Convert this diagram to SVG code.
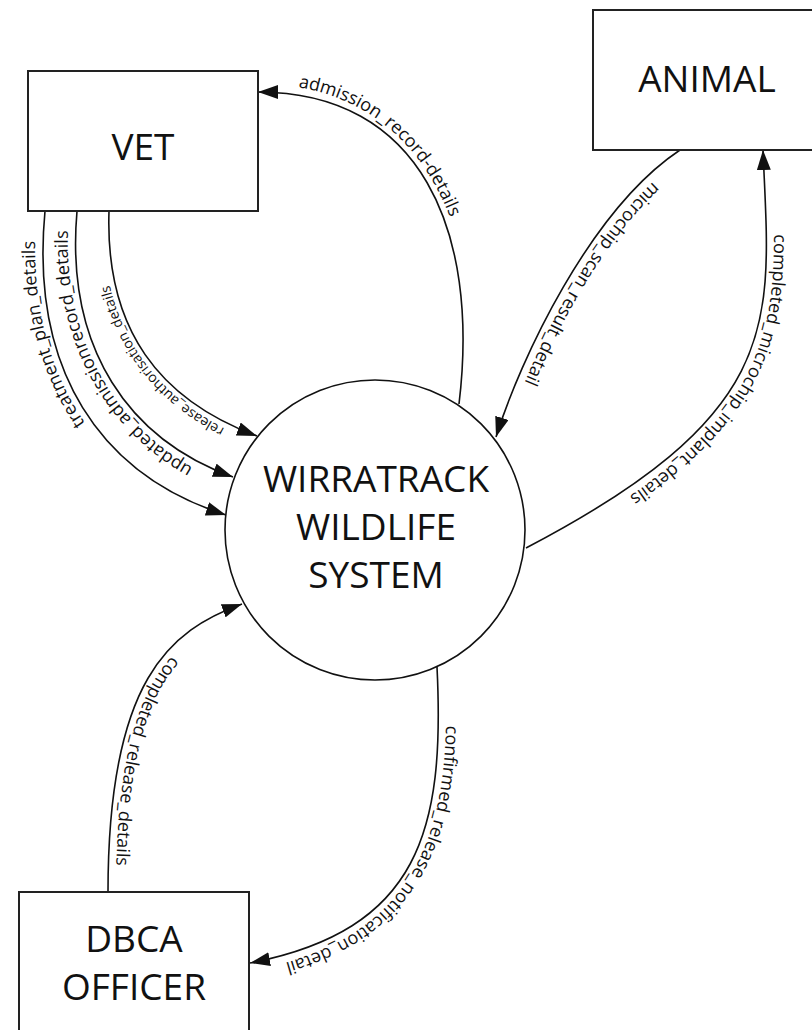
<svg xmlns="http://www.w3.org/2000/svg" width="812" height="1030" viewBox="0 0 812 1030">
<defs>
<marker id="arrow" markerUnits="userSpaceOnUse" markerWidth="20" markerHeight="14" refX="20" refY="7" orient="auto-start-reverse">
<path d="M0,0 L20,7 L0,14 Z" fill="#111"/>
</marker>
<path id="t1" d="M258,84 C420,84 489,231 468,405"/>
<path id="t2" d="M684.4,156.7 C594.4,216.7 527.6,362.4 503.6,439.4"/>
<path id="t3" d="M771,149.7 C778,319.7 793.7,417.1 529.7,555.1"/>
<path id="t4" d="M223.6,522.6 C97.6,482.6 22,369.2 37,210.2"/>
<path id="t5" d="M230.3,484.5 C127.3,447.5 57,349.3 69,210.3"/>
<path id="t6" d="M254.9,441.6 C157.9,405.6 99,329.8 103,210.8"/>
<path id="t7" d="M244.7,611.5 C172.7,637.5 116,680 116,892"/>
<path id="t8" d="M445,666.6 C453,829.6 421.5,937.8 251.5,970.8"/>
</defs>
<style>
.box{fill:#fff;stroke:#222;stroke-width:2}
.proc{fill:#fff;stroke:#111;stroke-width:1.6}
.flow{fill:none;stroke:#111;stroke-width:1.6}
.title{font-family:"Open Sans","Noto Sans",sans-serif;font-size:37px;fill:#111;text-anchor:middle}
.lbl{font-family:"Open Sans","Noto Sans",sans-serif;font-size:18px;fill:#111}
.sm{font-size:14px}
</style>
<rect width="812" height="1030" fill="#fff"/>
<g id="connectors">
<path id="c1" class="flow" d="M258,92 C420,92 480,230 459,404" marker-start="url(#arrow)"/>
<path id="c2" class="flow" d="M680,150 C590,210 520,360 496,437" marker-end="url(#arrow)"/>
<path id="c3" class="flow" d="M763,150 C770,320 790,410 526,548" marker-start="url(#arrow)"/>
<path id="c4" class="flow" d="M226,515 C100,475 30,370 45,211" marker-start="url(#arrow)"/>
<path id="c5" class="flow" d="M233,477 C130,440 65,350 77,211" marker-start="url(#arrow)"/>
<path id="c6" class="flow" d="M257,436 C160,400 105,330 109,211" marker-start="url(#arrow)"/>
<path id="c7" class="flow" d="M242,604 C170,630 108,680 108,892" marker-start="url(#arrow)"/>
<path id="c8" class="flow" d="M437,667 C445,830 420,930 250,963" marker-end="url(#arrow)"/>
<text class="lbl"><textPath href="#t1" startOffset="33%" text-anchor="middle">admission_record-details</textPath></text>
<text class="lbl"><textPath href="#t2" startOffset="47%" text-anchor="middle">microchip_scan_result_detail</textPath></text>
<text class="lbl"><textPath href="#t3" startOffset="47%" text-anchor="middle">completed_microchip_implant_details</textPath></text>
<text class="lbl"><textPath href="#t4" startOffset="68%" text-anchor="middle">treatment_plan_details</textPath></text>
<text class="lbl"><textPath href="#t5" startOffset="53%" text-anchor="middle">updated_admissionrecord_details</textPath></text>
<text class="lbl sm"><textPath href="#t6" startOffset="43%" text-anchor="middle">release_authorisation_details</textPath></text>
<text class="lbl"><textPath href="#t7" startOffset="59%" text-anchor="middle">completed_release_details</textPath></text>
<text class="lbl"><textPath href="#t8" startOffset="53%" text-anchor="middle">confirmed_release_notification_detail</textPath></text>
</g>
<g id="vet">
<rect class="box" x="28" y="71" width="230" height="140"/>
<text class="title" x="143" y="160">VET</text>
</g>
<g id="animal">
<rect class="box" x="593" y="10" width="228" height="140"/>
<text class="title" x="707" y="92">ANIMAL</text>
</g>
<g id="system">
<circle class="proc" cx="375" cy="530" r="150"/>
<text class="title" x="376" y="492">WIRRATRACK</text>
<text class="title" x="376" y="540">WILDLIFE</text>
<text class="title" x="376" y="588">SYSTEM</text>
</g>
<g id="dbca">
<rect class="box" x="19" y="892" width="230" height="150"/>
<text class="title" x="134" y="952">DBCA</text>
<text class="title" x="134" y="1000">OFFICER</text>
</g>
</svg>
